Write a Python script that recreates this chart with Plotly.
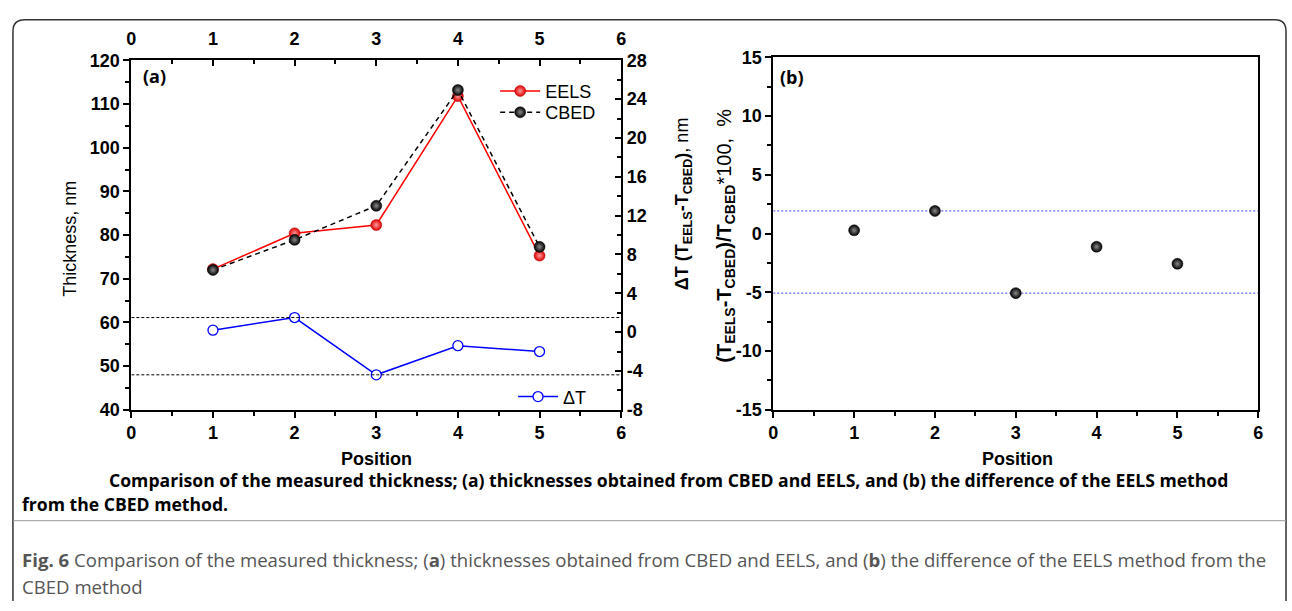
import plotly.graph_objects as go

W, H = 1292, 611

# ---------------- data ----------------
positions = [1, 2, 3, 4, 5]
eels_thickness = [72.2, 80.4, 82.3, 111.8, 75.3]
cbed_thickness = [72.0, 78.9, 86.7, 113.2, 77.3]
delta_t = [0.2, 1.5, -4.4, -1.4, -2.0]
rel_diff_pct = [0.28, 1.93, -5.07, -1.12, -2.57]
x_ticks = [0, 1, 2, 3, 4, 5, 6]
thick_ticks = [40, 50, 60, 70, 80, 90, 100, 110, 120]
dt_ticks = [-8, -4, 0, 4, 8, 12, 16, 20, 24, 28]
pct_ticks = [-15, -10, -5, 0, 5, 10, 15]


def px(x):
    """page pixel x -> paper fraction"""
    return x / W


def py(y):
    """page pixel y (from top) -> paper fraction"""
    return 1 - y / H


def labels(vals):
    # plain hyphen-minus as in the original figure
    return [str(v) for v in vals]


TICKFONT = dict(family="Arial", size=18, color="black", weight="bold")
AXFONT = "Arial"

fig = go.Figure()

# ---------------- panel (a) ----------------
fig.add_trace(go.Scatter(
    x=positions, y=eels_thickness, name="EELS", mode="lines+markers",
    line=dict(color="#ff0000", width=1.5),
    marker=dict(size=11, color="#e00000", gradient=dict(type="radial", color="#ff9a9a"),
                line=dict(color="#b00000", width=0.5)),
    xaxis="x", yaxis="y", legend="legend",
))
fig.add_trace(go.Scatter(
    x=positions, y=cbed_thickness, name="CBED", mode="lines+markers",
    line=dict(color="black", width=1.5, dash="5px,4px"),
    marker=dict(size=11, color="#000000", gradient=dict(type="radial", color="#8a8a8a"),
                line=dict(color="black", width=0.5)),
    xaxis="x", yaxis="y", legend="legend3",
))
# reference lines at max / min of delta T
for yv in (max(delta_t), min(delta_t)):
    fig.add_trace(go.Scatter(
        x=[x_ticks[0], x_ticks[-1]], y=[yv, yv], mode="lines",
        line=dict(color="black", width=1, dash="3px,2px"),
        showlegend=False, hoverinfo="skip", xaxis="x2", yaxis="y2",
    ))
fig.add_trace(go.Scatter(
    x=positions, y=delta_t, name="\u0394T", mode="lines+markers",
    line=dict(color="#0000ff", width=1.5),
    marker=dict(size=10, color="white", line=dict(color="#0000ff", width=1.3)),
    xaxis="x", yaxis="y2", legend="legend2",
))

# ---------------- panel (b) ----------------
for yv in (max(rel_diff_pct), min(rel_diff_pct)):
    fig.add_trace(go.Scatter(
        x=[x_ticks[0], x_ticks[-1]], y=[yv, yv], mode="lines",
        line=dict(color="#3a3aff", width=1, dash="2px,2px"),
        showlegend=False, hoverinfo="skip", xaxis="x3", yaxis="y3",
    ))
fig.add_trace(go.Scatter(
    x=positions, y=rel_diff_pct, mode="markers", showlegend=False,
    marker=dict(size=11, color="#000000", gradient=dict(type="radial", color="#8a8a8a"),
                line=dict(color="black", width=0.5)),
    xaxis="x3", yaxis="y3",
))

A_X = [px(127.3), px(621)]
A_Y = [py(413.3), py(52)]
B_X = [px(774.3), px(1263)]
B_Y = [py(413.3), py(49)]

common_axis = dict(showgrid=False, zeroline=False, showline=True, linecolor="black",
                   linewidth=1.8, tickcolor="black", tickwidth=1.5, tickfont=TICKFONT)

LEGFONT = dict(family=AXFONT, size=18, color="black")
fig.update_layout(
    width=W, height=H, margin=dict(l=0, r=0, t=0, b=0),
    paper_bgcolor="white", plot_bgcolor="white",
    xaxis=dict(domain=A_X, anchor="y", range=[0, 6], tickvals=x_ticks, ticktext=labels(x_ticks),
               ticks="outside", ticklen=6,
               minor=dict(dtick=0.5, ticks="outside", ticklen=4, tickcolor="black"),
               **common_axis),
    xaxis2=dict(domain=A_X, anchor="y", overlaying="x", side="top", range=[0, 6],
                tickvals=x_ticks, ticktext=labels(x_ticks), ticks="inside", ticklen=6,
                ticklabelstandoff=6,
                minor=dict(dtick=0.5, ticks="inside", ticklen=4, tickcolor="black"),
                **common_axis),
    yaxis=dict(domain=A_Y, anchor="x", range=[40, 120], tickvals=thick_ticks,
               ticktext=labels(thick_ticks), ticks="outside", ticklen=6,
               minor=dict(dtick=5, ticks="outside", ticklen=4, tickcolor="black"),
               **common_axis),
    yaxis2=dict(domain=A_Y, anchor="x", overlaying="y", side="right", range=[-8, 28],
                tickvals=dt_ticks, ticktext=labels(dt_ticks), ticks="inside", ticklen=6,
                minor=dict(dtick=2, ticks="inside", ticklen=4, tickcolor="black"),
                **common_axis),
    xaxis3=dict(domain=B_X, anchor="y3", range=[0, 6], tickvals=x_ticks, ticktext=labels(x_ticks),
                ticks="outside", ticklen=6, mirror=True,
                minor=dict(dtick=0.5, ticks="outside", ticklen=4, tickcolor="black"),
                **common_axis),
    yaxis3=dict(domain=B_Y, anchor="x3", range=[-15, 15], tickvals=pct_ticks,
                ticktext=labels(pct_ticks), ticks="outside", ticklen=6, mirror=True,
                minor=dict(dtick=2.5, ticks="outside", ticklen=4, tickcolor="black"),
                **common_axis),
    legend=dict(x=px(494), y=py(84), xanchor="left", yanchor="middle",
                bgcolor="rgba(0,0,0,0)", font=LEGFONT, itemwidth=40),
    legend3=dict(x=px(494), y=py(106), xanchor="left", yanchor="middle",
                 bgcolor="rgba(0,0,0,0)", font=LEGFONT, itemwidth=40),
    legend2=dict(x=px(512), y=py(400), xanchor="left", yanchor="middle",
                 bgcolor="rgba(0,0,0,0)", font=LEGFONT, itemwidth=40),
)

ann = []
# panel labels
ann.append(dict(text="<b>(a)</b>", x=px(137), y=py(68), xanchor="left", yanchor="middle",
                font=dict(family="Open Sans", size=18, color="black")))
ann.append(dict(text="<b>(b)</b>", x=px(779), y=py(69), xanchor="left", yanchor="middle",
                font=dict(family="Open Sans", size=18, color="black")))
# axis titles
ann.append(dict(text="Thickness, nm", x=px(66), y=py(236), textangle=-90,
                xanchor="center", yanchor="middle",
                font=dict(family=AXFONT, size=18, color="black")))
ann.append(dict(text="<b>\u0394T (T<sub>EELS</sub>-T<sub>CBED</sub>)</b>, nm", x=px(684), y=py(200),
                textangle=-90, xanchor="center", yanchor="middle",
                font=dict(family=AXFONT, size=18, color="black")))
ann.append(dict(text="<b>(T<sub>EELS</sub>-T<sub>CBED</sub>)/T<sub>CBED</sub></b>*100,  %",
                x=px(726), y=py(233), textangle=-90, xanchor="center", yanchor="middle",
                font=dict(family=AXFONT, size=20, color="black")))
ann.append(dict(text="<b>Position</b>", x=px(374), y=py(464), xanchor="center", yanchor="middle",
                font=dict(family=AXFONT, size=18, color="black")))
ann.append(dict(text="<b>Position</b>", x=px(1020), y=py(464), xanchor="center", yanchor="middle",
                font=dict(family=AXFONT, size=18, color="black")))
# captions
ann.append(dict(text="<b>Comparison of the measured thickness; (a) thicknesses obtained from CBED and EELS, "
                     "and (b) the difference of the EELS method</b>",
                x=px(103), y=py(486), xanchor="left", yanchor="middle",
                font=dict(family="Open Sans", size=17.6, color="black")))
ann.append(dict(text="<b>from the CBED method.</b>", x=px(15), y=py(511), xanchor="left",
                yanchor="middle", font=dict(family="Open Sans", size=17.6, color="black")))
ann.append(dict(text="<b>Fig. 6</b> Comparison of the measured thickness; (<b>a</b>) thicknesses obtained "
                     "from CBED and EELS, and (<b>b</b>) the difference of the EELS method from the",
                x=px(15), y=py(568), xanchor="left", yanchor="middle",
                font=dict(family="Open Sans", size=18.6, color="#555555")))
ann.append(dict(text="CBED method", x=px(15), y=py(596), xanchor="left", yanchor="middle",
                font=dict(family="Open Sans", size=18.6, color="#555555")))
for a in ann:
    a.update(xref="paper", yref="paper", showarrow=False)
fig.update_layout(annotations=ann)

# frame around the figure and caption separator
border = (f"M {px(8)},{py(611)} L {px(8)},{py(22)} Q {px(8)},{py(10)} {px(20)},{py(10)} "
          f"L {px(1280)},{py(10)} Q {px(1291)},{py(10)} {px(1291)},{py(22)} L {px(1291)},{py(611)}")
fig.update_layout(shapes=[
    dict(type="path", path=border, xref="paper", yref="paper",
         line=dict(color="#333333", width=1.5)),
    dict(type="line", x0=px(8), x1=px(1291), y0=py(528), y1=py(528), xref="paper", yref="paper",
         line=dict(color="#9a9a9a", width=1)),
])

fig.write_html("out.html")
